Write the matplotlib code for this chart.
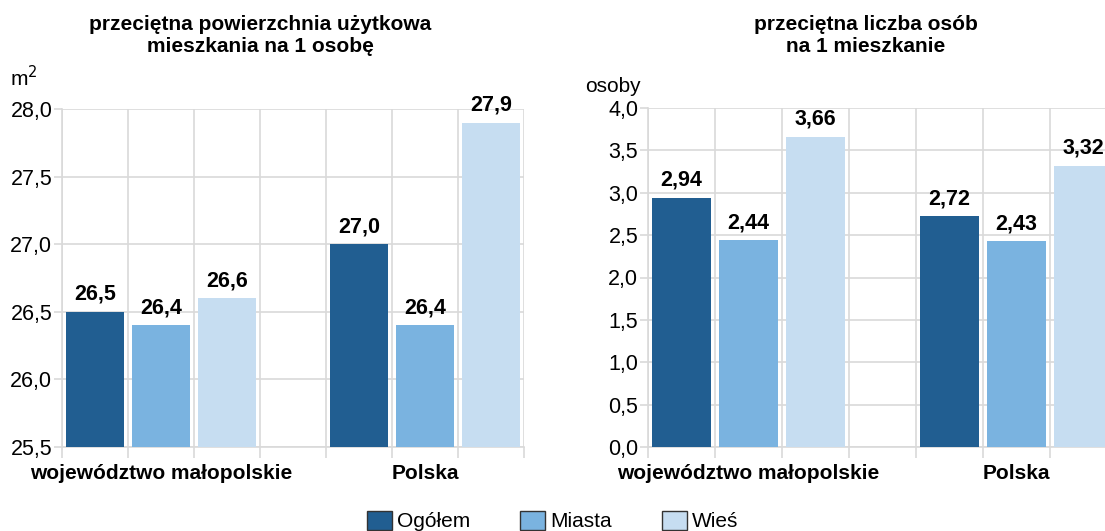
import matplotlib.pyplot as plt
from matplotlib.patches import Patch

plt.rcParams['font.family'] = ['Liberation Sans', 'DejaVu Sans']

# --- data ---
groups = ['województwo małopolskie', 'Polska']
series = ['Ogółem', 'Miasta', 'Wieś']
area = {'Ogółem': [26.5, 27.0], 'Miasta': [26.4, 26.4], 'Wieś': [26.6, 27.9]}
persons = {'Ogółem': [2.94, 2.72], 'Miasta': [2.44, 2.43], 'Wieś': [3.66, 3.32]}
area_ticks = [25.5, 26.0, 26.5, 27.0, 27.5, 28.0]
persons_ticks = [0.0, 0.5, 1.0, 1.5, 2.0, 2.5, 3.0, 3.5, 4.0]

colors = ['#215e91', '#7ab3e0', '#c6ddf1']
grid_c = '#d9d9d9'


def fmt(v, nd):
    return f'{v:.{nd}f}'.replace('.', ',')


def draw(ax, data, ticks, nd_lbl):
    base = ticks[0]
    for gi in range(len(groups)):
        for si, s in enumerate(series):
            x = gi * 4 + si
            v = data[s][gi]
            ax.bar(x, v - base, bottom=base, width=0.88, color=colors[si], zorder=3)
            ax.annotate(fmt(v, nd_lbl), (x, v), xytext=(0, 5), textcoords='offset points',
                        ha='center', va='bottom', fontsize=15.5, fontweight='bold',
                        zorder=4, annotation_clip=False)
    ax.set_xlim(-0.5, 6.5)
    ax.set_ylim(ticks[0], ticks[-1])
    ax.set_yticks(ticks)
    ax.set_yticklabels([fmt(t, 1) for t in ticks], fontsize=15.5)
    ax.set_xticks([x - 0.5 for x in range(8)], minor=True)
    ax.set_xticks([1, 5])
    ax.set_xticklabels(groups, fontsize=15, fontweight='bold')
    ax.tick_params(axis='x', which='major', length=0, pad=12)
    ax.tick_params(axis='x', which='minor', length=8, color=grid_c, width=1.2)
    ax.tick_params(axis='y', length=6, color=grid_c, width=1.2, pad=1)
    ax.grid(True, which='minor', axis='x', color=grid_c, lw=1.2, zorder=0)
    ax.grid(True, which='major', axis='y', color=grid_c, lw=1.2, zorder=0)
    for sp in ['top', 'right']:
        ax.spines[sp].set_visible(False)
    for sp in ['left', 'bottom']:
        ax.spines[sp].set_color(grid_c)
        ax.spines[sp].set_linewidth(1.2)


fig = plt.figure(figsize=(11.05, 5.31), dpi=100)
ax1 = fig.add_axes([62 / 1105, 84 / 531, 462 / 1105, 338 / 531])
ax2 = fig.add_axes([648 / 1105, 84 / 531, 469 / 1105, 339 / 531])

draw(ax1, area, area_ticks, 1)
draw(ax2, persons, persons_ticks, 2)

fig.text(260 / 1105, 1 - 35 / 531, 'przeciętna powierzchnia użytkowa\nmieszkania na 1 osobę',
         ha='center', va='center', fontsize=15, fontweight='bold', linespacing=1.2)
fig.text(866 / 1105, 1 - 35 / 531, 'przeciętna liczba osób\nna 1 mieszkanie',
         ha='center', va='center', fontsize=15, fontweight='bold', linespacing=1.2)
fig.text(10 / 1105, 1 - 86 / 531, 'm$^2$', fontsize=15, ha='left', va='baseline')
fig.text(585 / 1105, 1 - 92 / 531, 'osoby', fontsize=15, ha='left', va='baseline')

handles = [Patch(facecolor=c, edgecolor='#333333', lw=1) for c in colors]
fig.legend(handles, series, loc='lower center', bbox_to_anchor=(0.5, -0.036), ncol=3,
           frameon=False, fontsize=15, handlelength=1.2, handleheight=1.0,
           handletextpad=0.25, columnspacing=2.4)

fig.savefig('out.png', dpi=100)
